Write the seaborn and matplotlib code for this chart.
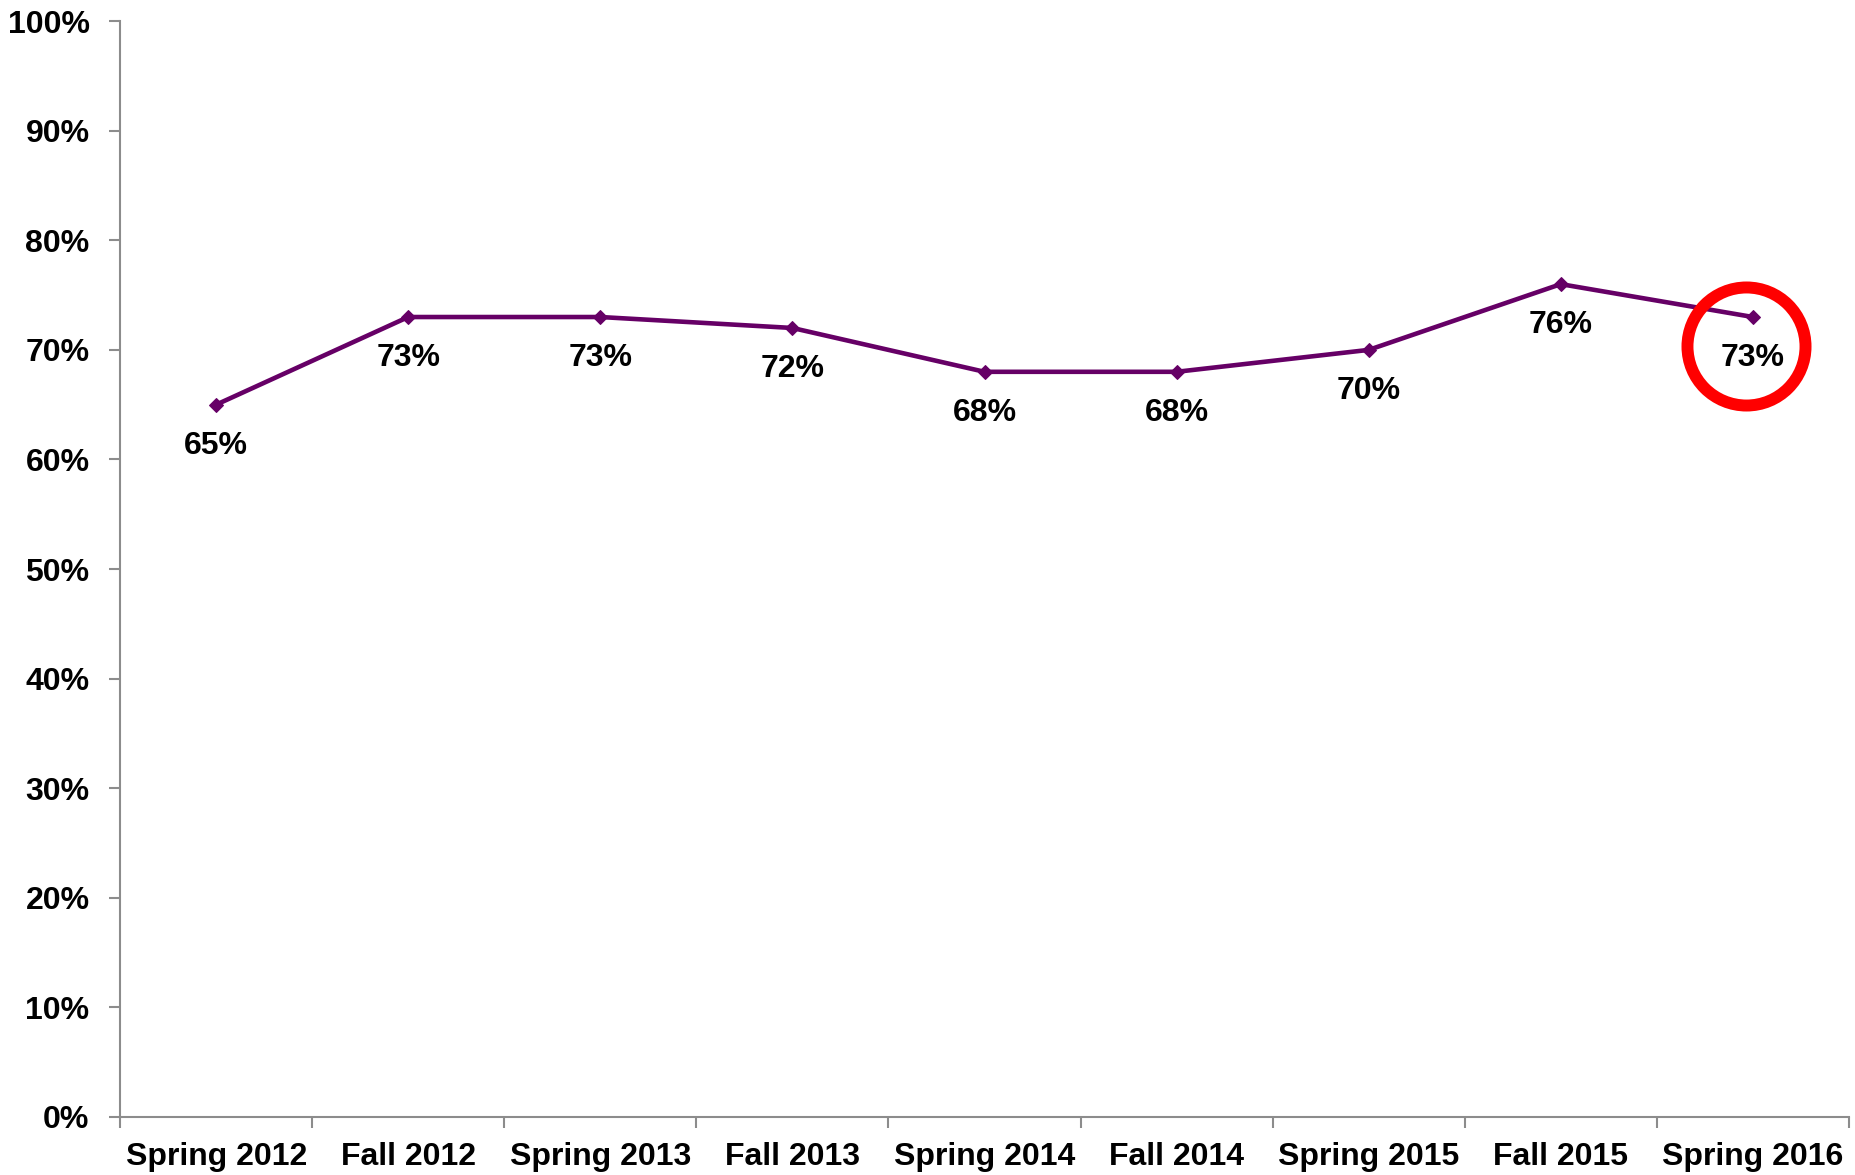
import numpy as np
import pandas as pd
import matplotlib
matplotlib.use("Agg")
import matplotlib.pyplot as plt
import matplotlib.transforms as mtransforms
import seaborn as sns

# Chart data
terms = ['Spring 2012', 'Fall 2012', 'Spring 2013', 'Fall 2013', 'Spring 2014',
         'Fall 2014', 'Spring 2015', 'Fall 2015', 'Spring 2016']
rates = [65, 73, 73, 72, 68, 68, 70, 76, 73]
y_ticks = [0, 10, 20, 30, 40, 50, 60, 70, 80, 90, 100]

df = pd.DataFrame({'pos': np.arange(len(terms)), 'rate': rates})

sns.set_style('white')
plt.rcParams['font.family'] = ['Liberation Sans', 'DejaVu Sans']
plt.rcParams['font.weight'] = 'bold'

line_color = '#660066'
axis_color = '#8c8c8c'
fs = 23

fig = plt.figure(figsize=(18.56, 11.75), dpi=100)
ax = fig.add_axes([0.0647, 0.0494, 0.9315, 0.9326])

sns.lineplot(data=df, x='pos', y='rate', ax=ax, color=line_color, linewidth=3.3,
             marker='D', markersize=7.5, markeredgecolor=line_color)

# Data labels under each point
for x, y in zip(df['pos'], df['rate']):
    ax.annotate(f'{y}%', (x, y), xytext=(0, -41), textcoords='offset pixels',
                ha='center', va='center', fontsize=fs, fontweight='bold',
                color='black')

# Red circle highlighting the latest term
trans = mtransforms.offset_copy(ax.transData, fig=fig, x=-7, y=-29, units='dots')
ax.plot(df['pos'].iloc[-1], df['rate'].iloc[-1], marker='o', markersize=85,
        markerfacecolor='none', markeredgecolor='#ff0000', markeredgewidth=8.6,
        transform=trans, clip_on=False)

ax.set_xlim(-0.5, len(terms) - 0.5)
ax.set_ylim(0, 100)

# Excel-style ticks: marks at category boundaries, labels at centres
ax.set_xticks(np.arange(-0.5, len(terms), 1.0))
ax.set_xticklabels([])
ax.set_xticks(np.arange(len(terms)), minor=True)
ax.set_xticklabels(terms, minor=True, fontsize=fs, fontweight='bold')
ax.tick_params(axis='x', which='major', length=8, width=1.5, color=axis_color,
               direction='out', bottom=True)
ax.tick_params(axis='x', which='minor', length=0, pad=18, labelcolor='black')

ax.set_yticks(y_ticks)
ax.set_yticklabels([f'{t}%' for t in y_ticks], fontsize=fs, fontweight='bold')
ax.tick_params(axis='y', length=8, width=1.5, color=axis_color, direction='out',
               left=True, pad=14, labelcolor='black')

ax.set_xlabel('')
ax.set_ylabel('')
sns.despine(ax=ax, top=True, right=True)
for side in ['left', 'bottom']:
    ax.spines[side].set_color(axis_color)
    ax.spines[side].set_linewidth(1.5)

fig.savefig('out.png', dpi=100)
